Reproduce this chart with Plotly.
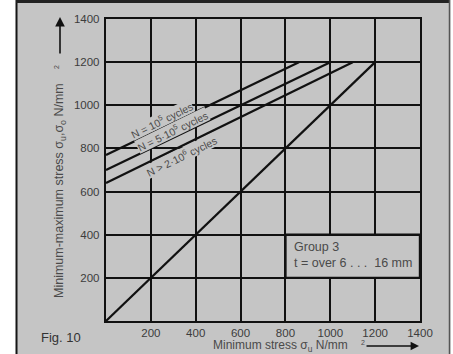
import plotly.graph_objects as go

# ---- data ----
tick_vals = [200, 400, 600, 800, 1000, 1200, 1400]
tick_text = ["200", "400", "600", "800", "1000", "1200", "1400"]

diag_x = [0, 1200]
diag_y = [0, 1200]
n1e5_x = [0, 860]
n1e5_y = [770, 1200]
n5e5_x = [0, 1000]
n5e5_y = [700, 1200]
n2e6_x = [0, 1100]
n2e6_y = [640, 1200]

label_1e5 = "N = 10<sup>5</sup> cycles"
label_5e5 = "N = 5·10<sup>5</sup> cycles"
label_2e6 = "N > 2·10<sup>6</sup> cycles"
group_text = "Group 3<br>t = over 6 . . .  16 mm"

# ---- style ----
BG = "#c5c5c5"
INK = "#111111"
TXT = "#4a4a4a"
FONT = "Liberation Sans, Arial, sans-serif"

# plot-area pixel geometry helpers (for paper-referenced decorations)
L, R, T, B = 106, 33, 19, 33
W, H = 453, 354
PW, PH = W - L - R, H - T - B


def px(x):
    return (x - L) / PW


def py(y):
    return (H - B - y) / PH


fig = go.Figure()
for xs, ys in [(diag_x, diag_y), (n1e5_x, n1e5_y), (n5e5_x, n5e5_y), (n2e6_x, n2e6_y)]:
    fig.add_trace(go.Scatter(x=xs, y=ys, mode="lines",
                             line=dict(color=INK, width=2.2),
                             hoverinfo="skip", showlegend=False))

axis_common = dict(range=[0, 1400], tickvals=tick_vals, ticktext=tick_text,
                   showgrid=True, gridcolor=INK, gridwidth=2.4,
                   zeroline=False, showline=True, linecolor=INK, linewidth=2.4,
                   mirror=True, ticks="", fixedrange=True,
                   tickfont=dict(family=FONT, size=11.5, color="#3c3c3c"))

fig.update_layout(
    width=W, height=H,
    margin=dict(l=L, r=R, t=T, b=B, autoexpand=False),
    paper_bgcolor=BG, plot_bgcolor=BG,
    xaxis=dict(**axis_common, ticklabelstandoff=0),
    yaxis=dict(**axis_common, ticklabelstandoff=2),
    showlegend=False,
)

shapes = [
    # Group 3 box hides grid inside
    dict(type="rect", xref="x", yref="y", x0=800, x1=1400, y0=200, y1=400,
         fillcolor=BG, line=dict(color=INK, width=2.4), layer="between"),
    # outer frame / page
    dict(type="rect", xref="paper", yref="paper", x0=px(-60), x1=px(16),
         y0=py(400), y1=py(-40), fillcolor="white", line=dict(width=0), layer="above"),
    dict(type="rect", xref="paper", yref="paper", x0=px(450.5), x1=px(520),
         y0=py(400), y1=py(-40), fillcolor="white", line=dict(width=0), layer="above"),
    dict(type="line", xref="paper", yref="paper", x0=px(16.5), x1=px(16.5),
         y0=py(0), y1=py(360), line=dict(color="#151515", width=2), layer="above"),
    dict(type="line", xref="paper", yref="paper", x0=px(16), x1=px(449.5),
         y0=py(1.5), y1=py(1.5), line=dict(color="#222222", width=3), layer="above"),
    dict(type="line", xref="paper", yref="paper", x0=px(449.5), x1=px(449.5),
         y0=py(0), y1=py(360), line=dict(color="#555555", width=1.5), layer="above"),
]
fig.update_layout(shapes=shapes)

C = dict(xanchor="center", yanchor="middle")
ann = []
for text, x, y in [(label_1e5, 249, 933), (label_5e5, 296, 882), (label_2e6, 338, 766)]:
    ann.append(dict(x=x, y=y, xref="x", yref="y", text=text, showarrow=False,
                    textangle=-26, bgcolor=BG, borderpad=0, **C,
                    font=dict(family=FONT, size=10.5, color=TXT)))
ann.append(dict(x=830, y=304, xref="x", yref="y", text=group_text, showarrow=False,
                xanchor="left", yanchor="middle", align="left",
                font=dict(family=FONT, size=12.5, color=TXT)))
# axis titles
ann.append(dict(x=px(60), y=py(191), xref="paper", yref="paper",
                text="Minimum-maximum stress σ<sub>u</sub>,σ<sub>o</sub> N/mm",
                textangle=-90, showarrow=False, **C,
                font=dict(family=FONT, size=12.5, color=TXT)))
ann.append(dict(x=px(56), y=py(67), xref="paper", yref="paper", text="2",
                textangle=-90, showarrow=False, **C,
                font=dict(family=FONT, size=7, color=TXT)))
ann.append(dict(x=px(280), y=py(346), xref="paper", yref="paper",
                text="Minimum stress σ<sub>u</sub> N/mm", showarrow=False, **C,
                font=dict(family=FONT, size=12, color=TXT)))
ann.append(dict(x=px(363), y=py(342), xref="paper", yref="paper", text="2",
                showarrow=False, **C, font=dict(family=FONT, size=7, color=TXT)))
ann.append(dict(x=px(61), y=py(337), xref="paper", yref="paper", text="Fig. 10",
                showarrow=False, **C, font=dict(family=FONT, size=13, color="#333333")))
# arrows
ann.append(dict(x=px(60), y=py(17), xref="paper", yref="paper", text="",
                showarrow=True, ax=0, ay=38, axref="pixel", ayref="pixel",
                arrowhead=2, arrowsize=1.2, arrowwidth=1.6, arrowcolor=INK))
ann.append(dict(x=px(419), y=py(346), xref="paper", yref="paper", text="",
                showarrow=True, ax=-54, ay=0, axref="pixel", ayref="pixel",
                arrowhead=2, arrowsize=1.2, arrowwidth=1.4, arrowcolor=INK))
fig.update_layout(annotations=ann)

fig.write_html("out.html", config={"displayModeBar": False},
               post_script="document.body.style.margin='0';")
